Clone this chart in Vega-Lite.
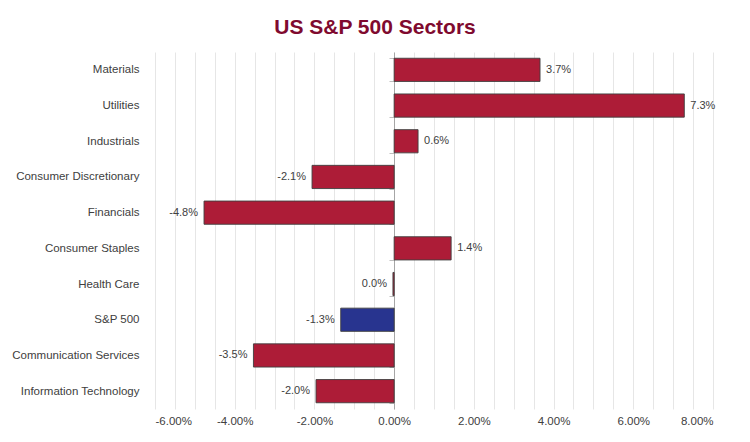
{
  "$schema": "https://vega.github.io/schema/vega-lite/v6.json",
  "width": 558,
  "height": 357,
  "autosize": {"type": "none"},
  "padding": {"left": 155, "top": 52, "right": 37, "bottom": 33},
  "background": "white",
  "title": {
    "text": "US S&P 500 Sectors",
    "font": "Liberation Sans",
    "fontSize": 21,
    "fontWeight": "bold",
    "color": "#7F0A2F",
    "anchor": "middle",
    "dx": -59,
    "offset": 8
  },
  "config": {
    "view": {"stroke": null},
    "font": "Liberation Sans"
  },
  "data": {
    "values": [
      {"sector": "Materials", "value": 0.0366, "label": "3.7%", "group": "sector"},
      {"sector": "Utilities", "value": 0.0728, "label": "7.3%", "group": "sector"},
      {"sector": "Industrials", "value": 0.0060, "label": "0.6%", "group": "sector"},
      {"sector": "Consumer Discretionary", "value": -0.0206, "label": "-2.1%", "group": "sector"},
      {"sector": "Financials", "value": -0.0477, "label": "-4.8%", "group": "sector"},
      {"sector": "Consumer Staples", "value": 0.0143, "label": "1.4%", "group": "sector"},
      {"sector": "Health Care", "value": -0.0003, "label": "0.0%", "group": "sector"},
      {"sector": "S&P 500", "value": -0.0134, "label": "-1.3%", "group": "index"},
      {"sector": "Communication Services", "value": -0.0353, "label": "-3.5%", "group": "sector"},
      {"sector": "Information Technology", "value": -0.0196, "label": "-2.0%", "group": "sector"}
    ]
  },
  "encoding": {
    "y": {
      "field": "sector",
      "type": "nominal",
      "sort": null,
      "title": null,
      "scale": {"paddingInner": 0.35, "paddingOuter": 0.175},
      "axis": {
        "offset": -239,
        "domainColor": "#A6A6A6",
        "tickColor": "#BFBFBF",
        "tickSize": 5,
        "tickBand": "extent",
        "labelPadding": 250,
        "labelFontSize": 11.5,
        "labelColor": "#404040",
        "labelFont": "Liberation Sans",
        "grid": false
      }
    },
    "x": {
      "field": "value",
      "type": "quantitative",
      "title": null,
      "scale": {"domain": [-0.06, 0.08], "nice": false, "zero": false},
      "axis": {
        "values": [-0.06,-0.055,-0.05,-0.045,-0.04,-0.035,-0.03,-0.025,-0.02,-0.015,-0.01,-0.005,0,0.005,0.01,0.015,0.02,0.025,0.03,0.035,0.04,0.045,0.05,0.055,0.06,0.065,0.07,0.075,0.08],
        "labelExpr": "abs(round(datum.value*200)) % 4 == 0 ? replace(format(datum.value, '.2%'), '\u2212', '-') : ''",
        "domain": false,
        "ticks": false,
        "grid": true,
        "gridColor": "#E6E6E6",
        "gridWidth": 1,
        "labelFontSize": 11.5,
        "labelColor": "#404040",
        "labelFont": "Liberation Sans",
        "labelPadding": 6
      }
    }
  },
  "layer": [
    {
      "mark": {"type": "bar", "stroke": "#404040", "strokeWidth": 0.9},
      "encoding": {
        "color": {
          "field": "group",
          "type": "nominal",
          "scale": {"domain": ["sector", "index"], "range": ["#AD1C37", "#28348F"]},
          "legend": null
        }
      }
    },
    {
      "transform": [{"filter": "datum.value >= 0"}],
      "mark": {"type": "text", "align": "left", "dx": 6, "fontSize": 11, "color": "#404040", "font": "Liberation Sans"},
      "encoding": {"text": {"field": "label", "type": "nominal"}}
    },
    {
      "transform": [{"filter": "datum.value < 0"}],
      "mark": {"type": "text", "align": "right", "dx": -6, "fontSize": 11, "color": "#404040", "font": "Liberation Sans"},
      "encoding": {"text": {"field": "label", "type": "nominal"}}
    }
  ]
}
